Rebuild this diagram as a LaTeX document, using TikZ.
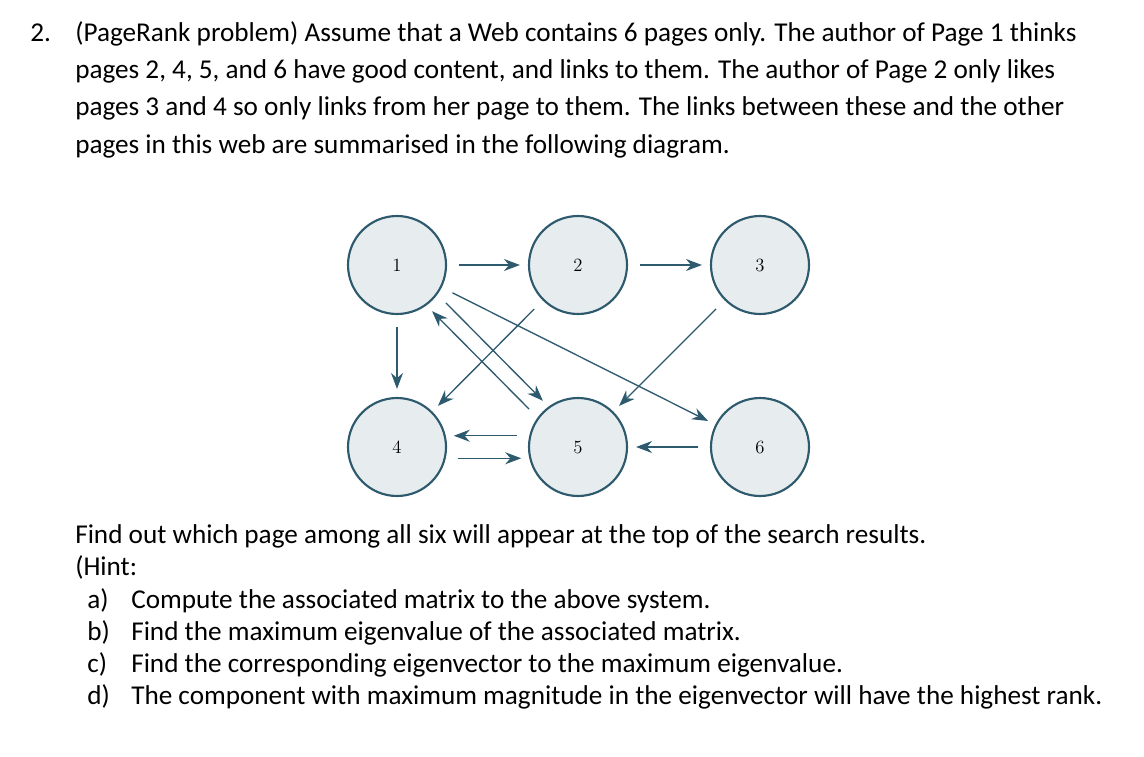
\documentclass[tikz,border=0pt]{standalone}
\usepackage{fontspec}
\newfontfamily\sans{Carlito}
\usetikzlibrary{arrows.meta}
\definecolor{edge}{HTML}{2E5A6E}
\definecolor{nfill}{HTML}{E7ECEF}
\begin{document}
\begin{tikzpicture}[x=0.75pt,y=-0.75pt,
  pg/.style={circle,draw=edge,line width=1.6pt,fill=nfill,minimum size=73.5pt,inner sep=0pt,font=\fontsize{14}{16}\selectfont},
  ar/.style={draw=edge,line width=1pt,-{Stealth[length=12pt,width=9pt]},shorten <=9pt,shorten >=6pt},
  tx/.style={anchor=base west,inner sep=0pt,font=\sans\fontsize{20.4}{24}\selectfont}]
\useasboundingbox (0,0) rectangle (1144,756);
\node[pg] (n1) at (397,265) {1};
\node[pg] (n2) at (578,265) {2};
\node[pg] (n3) at (760,265) {3};
\node[pg] (n4) at (397,447) {4};
\node[pg] (n5) at (578,447) {5};
\node[pg] (n6) at (760,447) {6};
\draw[ar] (n1) -- (n2);
\draw[ar] (n2) -- (n3);
\draw[ar] (n1) -- (n4);
\draw[ar] (n1.-36) -- (n5.126);
\draw[ar] (n5.144) -- (n1.-54);
\draw[ar] (n1) -- (n6);
\draw[ar] (n2) -- (n4);
\draw[ar] (n3) -- (n5);
\draw[ar] (n5.167) -- (n4.13);
\draw[ar] (n4.-13) -- (n5.-167);
\draw[ar] (n6) -- (n5);
\node[tx] (t0) at (30,42) {2.};
\node[tx] (t1) at (75,42) {(PageRank problem) Assume that a Web contains 6 pages only. The author of Page 1 thinks};
\node[tx] (t2) at (75,79) {pages 2, 4, 5, and 6 have good content, and links to them. The author of Page 2 only likes};
\node[tx] (t3) at (75,116) {pages 3 and 4 so only links from her page to them. The links between these and the other};
\node[tx] (t4) at (75,153) {pages in this web are summarised in the following diagram.};
\node[tx] (b1) at (75,543) {Find out which page among all six will appear at the top of the search results.};
\node[tx] (b2) at (75,575) {(Hint:};
\node[tx] (la) at (87,608) {a)};
\node[tx] (ta) at (131,608) {Compute the associated matrix to the above system.};
\node[tx] (lb) at (87,640) {b)};
\node[tx] (tb) at (131,640) {Find the maximum eigenvalue of the associated matrix.};
\node[tx] (lc) at (87,672) {c)};
\node[tx] (tc) at (131,672) {Find the corresponding eigenvector to the maximum eigenvalue.};
\node[tx] (ld) at (87,704) {d)};
\node[tx] (td) at (131,704) {The component with maximum magnitude in the eigenvector will have the highest rank.};
\end{tikzpicture}
\end{document}
